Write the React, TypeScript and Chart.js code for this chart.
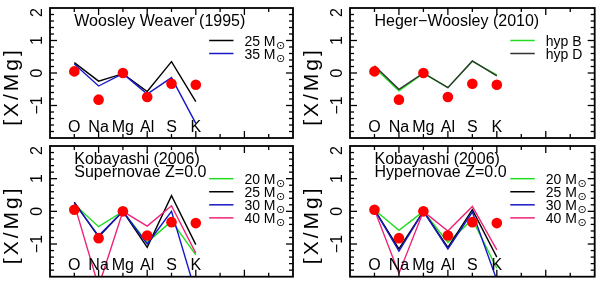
import React, { useEffect, useRef } from 'react';
import { Chart, registerables } from 'chart.js';

Chart.register(...registerables);

// ---------- data ----------
const elements = ['O', 'Na', 'Mg', 'Al', 'S', 'K'];
const observed = [0.05, -0.82, 0.0, -0.74, -0.33, -0.36];

const ww95_25 = [0.32, -0.25, -0.02, -0.57, 0.35, -0.88];
const ww95_35 = [0.28, -0.4, -0.02, -0.65, -0.14, -1.55];

const hw10_hypB = [0.17, -0.55, -0.01, -0.45, 0.36, -0.06];
const hw10_hypD = [0.22, -0.5, 0.0, -0.45, 0.37, -0.09];

const k06sn_20 = [0.22, -0.47, 0.0, -0.95, -0.3, -1.33];
const k06sn_25 = [0.28, -0.78, 0.0, -1.1, 0.48, -1.02];
const k06sn_30 = [0.25, -0.75, 0.0, -1.0, 0.0, -2.5];
const k06sn_40 = [0.22, -2.3, 0.0, -0.45, 0.17, -1.28];

const k06hn_20 = [0.05, -0.58, 0.0, -0.95, -0.25, -1.74];
const k06hn_25 = [0.05, -1.15, 0.0, -1.1, 0.05, -1.4];
const k06hn_30 = [0.05, -1.22, 0.0, -1.15, -0.02, -2.1];
const k06hn_40 = [0.05, -1.9, 0.0, -0.6, 0.15, -1.18];

const yTickValues = [2, 1, 0, -1];
const yTickLabels = ['2', '1', '0', '−1'];
const yAxisTitle = '[X/Mg]';

// ---------- styling ----------
const FONT = '"Liberation Sans", Arial, Helvetica, sans-serif';
const RED = '#ff0000';
const BLACK = '#000000';
const BLUE = '#1818c8';
const GREEN = '#22dd22';
const PINK = '#ee2277';
const DARK = '#333333';

type Series = { label: string; values: number[]; color: string };
type PanelSpec = {
  key: string;
  title: string[];
  series: Series[];
  sun: boolean;
  pad: { left: number; top: number; right: number; bottom: number };
};

const panels: PanelSpec[] = [
  {
    key: 'ww',
    title: ['Woosley Weaver (1995)'],
    series: [
      { label: '25 M', values: ww95_25, color: BLACK },
      { label: '35 M', values: ww95_35, color: BLUE },
    ],
    sun: true,
    pad: { left: 50, top: 8, right: 307, bottom: 144 },
  },
  {
    key: 'hw',
    title: ['Heger−Woosley (2010)'],
    series: [
      { label: 'hyp B', values: hw10_hypB, color: GREEN },
      { label: 'hyp D', values: hw10_hypD, color: DARK },
    ],
    sun: false,
    pad: { left: 350, top: 8, right: 5, bottom: 144 },
  },
  {
    key: 'ksn',
    title: ['Kobayashi (2006)', 'Supernovae Z=0.0'],
    series: [
      { label: '20 M', values: k06sn_20, color: GREEN },
      { label: '25 M', values: k06sn_25, color: BLACK },
      { label: '30 M', values: k06sn_30, color: BLUE },
      { label: '40 M', values: k06sn_40, color: PINK },
    ],
    sun: true,
    pad: { left: 50, top: 146, right: 307, bottom: 2 },
  },
  {
    key: 'khn',
    title: ['Kobayashi (2006)', 'Hypernovae Z=0.0'],
    series: [
      { label: '20 M', values: k06hn_20, color: GREEN },
      { label: '25 M', values: k06hn_25, color: BLACK },
      { label: '30 M', values: k06hn_30, color: BLUE },
      { label: '40 M', values: k06hn_40, color: PINK },
    ],
    sun: true,
    pad: { left: 350, top: 146, right: 5, bottom: 2 },
  },
];

const legendRows = [1.0, 0.6, 0.2, -0.2];

function makeDecor(spec: PanelSpec) {
  return {
    id: 'panelDecor_' + spec.key,
    afterDatasetsDraw(chart: any) {
      const { ctx, chartArea: a } = chart;
      const xs = chart.scales.x;
      const ys = chart.scales.y;
      ctx.save();
      ctx.strokeStyle = '#000';
      ctx.fillStyle = '#000';

      // ticks
      ctx.lineWidth = 1.3;
      const seg = (x1: number, y1: number, x2: number, y2: number) => {
        ctx.beginPath();
        ctx.moveTo(x1, y1);
        ctx.lineTo(x2, y2);
        ctx.stroke();
      };
      for (let v = 1; v <= 9; v++) {
        const px = xs.getPixelForValue(v);
        const len = v % 2 === 0 ? 7 : 4;
        seg(px, a.top, px, a.top + len);
        seg(px, a.bottom, px, a.bottom - len);
      }
      for (let k = -9; k <= 9; k++) {
        const py = ys.getPixelForValue(k / 5);
        const len = k % 5 === 0 ? 7 : 4;
        seg(a.left, py, a.left + len, py);
        seg(a.right, py, a.right - len, py);
      }

      // frame
      ctx.lineWidth = 1.8;
      ctx.strokeRect(a.left, a.top, a.right - a.left, a.bottom - a.top);

      // y tick labels (rotated)
      ctx.font = `16px ${FONT}`;
      ctx.textBaseline = 'middle';
      yTickValues.forEach((v, i) => {
        const py = ys.getPixelForValue(v);
        ctx.save();
        ctx.translate(a.left - 12, py);
        ctx.rotate(-Math.PI / 2);
        ctx.textAlign = v === 2 ? 'right' : 'center';
        ctx.fillText(yTickLabels[i], 0, 0);
        ctx.restore();
      });

      // y axis title
      ctx.save();
      ctx.font = `21px ${FONT}`;
      (ctx as any).letterSpacing = '3px';
      ctx.translate(a.left - 38, (a.top + a.bottom) / 2 + 15);
      ctx.rotate(-Math.PI / 2);
      ctx.textAlign = 'center';
      ctx.textBaseline = 'middle';
      ctx.fillText(yAxisTitle, 1.5, 0);
      ctx.restore();

      // element labels
      ctx.font = `16px ${FONT}`;
      ctx.textAlign = 'center';
      ctx.textBaseline = 'alphabetic';
      elements.forEach((el, i) => {
        ctx.fillText(el, xs.getPixelForValue(i + 1), ys.getPixelForValue(-1.8));
      });

      // title
      ctx.textAlign = 'left';
      const titleY = [1.45, 1.05];
      spec.title.forEach((t, i) => {
        ctx.fillText(t, xs.getPixelForValue(1), ys.getPixelForValue(titleY[i]));
      });

      // legend
      spec.series.forEach((s, i) => {
        const py = ys.getPixelForValue(legendRows[i]);
        ctx.strokeStyle = s.color;
        ctx.lineWidth = 1.5;
        seg(xs.getPixelForValue(6.55), py, xs.getPixelForValue(7.55), py);
        ctx.font = `14px ${FONT}`;
        ctx.textAlign = 'left';
        const tx = xs.getPixelForValue(8.0);
        ctx.fillText(s.label, tx, py + 5);
        if (spec.sun) {
          const w = ctx.measureText(s.label).width;
          ctx.font = `11px "DejaVu Sans", sans-serif`;
          ctx.fillText('⊙', tx + w + 0.5, py + 8);
        }
      });

      ctx.restore();
    },
  };
}

function Panel({ spec }: { spec: PanelSpec }) {
  const ref = useRef<HTMLCanvasElement | null>(null);
  useEffect(() => {
    if (!ref.current) return;
    const toPts = (vals: number[]) => vals.map((v, i) => ({ x: i + 1, y: v }));
    const lineSets = spec.series.map((s) => ({
      label: s.label,
      data: toPts(s.values),
      borderColor: s.color,
      backgroundColor: s.color,
      borderWidth: 1.4,
      pointRadius: 0,
      fill: false,
      tension: 0,
    }));
    // earlier datasets are drawn on top in Chart.js
    const ordered = spec.key === 'hw' ? lineSets.slice().reverse() : lineSets.slice().reverse();
    const chart = new Chart(ref.current, {
      type: 'line',
      data: {
        datasets: [
          {
            label: 'observed',
            data: toPts(observed),
            showLine: false,
            pointRadius: 5.3,
            pointBorderWidth: 0,
            pointBackgroundColor: RED,
            borderColor: RED,
            backgroundColor: RED,
          } as any,
          ...ordered,
        ],
      },
      options: {
        responsive: false,
        animation: false,
        devicePixelRatio: 1,
        layout: { padding: spec.pad },
        scales: {
          x: { type: 'linear', min: 0, max: 10, display: false },
          y: { type: 'linear', min: -2, max: 2, display: false },
        },
        plugins: { legend: { display: false }, tooltip: { enabled: false } },
        events: [],
      },
      plugins: [makeDecor(spec)],
    });
    return () => chart.destroy();
  }, [spec]);
  return (
    <canvas
      ref={ref}
      width={600}
      height={282}
      style={{ position: 'absolute', left: 0, top: 0, width: 600, height: 282 }}
    />
  );
}

export default function App() {
  return (
    <div style={{ position: 'fixed', left: 0, top: 0, width: 600, height: 282, background: '#fff' }}>
      {panels.map((p) => (
        <Panel key={p.key} spec={p} />
      ))}
    </div>
  );
}
